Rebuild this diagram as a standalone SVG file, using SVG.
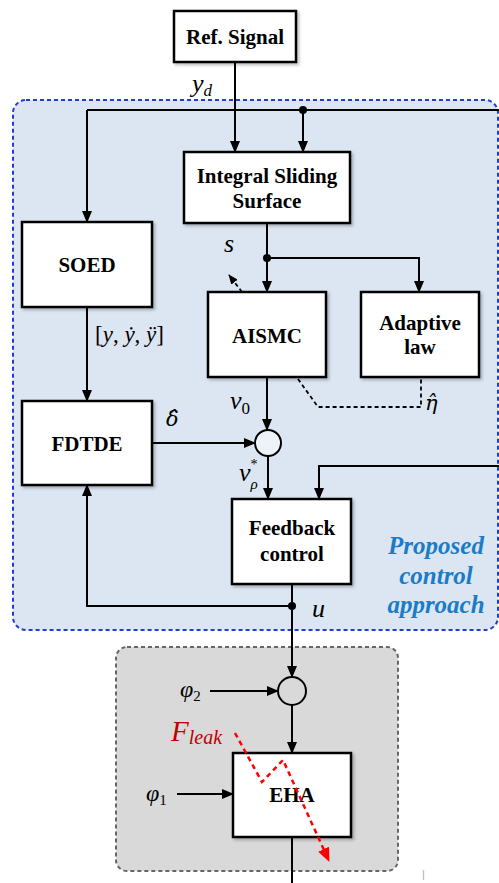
<svg xmlns="http://www.w3.org/2000/svg" width="499" height="883" viewBox="0 0 499 883">
<style>
.box{fill:#fff;stroke:#000;stroke-width:2.5;filter:url(#sh)}
.ln{fill:none;stroke:#000;stroke-width:2}
.arr{fill:none;stroke:#000;stroke-width:2;marker-end:url(#ah)}
.dash{fill:none;stroke:#000;stroke-width:1.8;stroke-dasharray:4,3}
</style>
<defs>
<filter id="sh" x="-10%" y="-10%" width="130%" height="130%">
<feDropShadow dx="2" dy="2" stdDeviation="1.5" flood-color="#000" flood-opacity="0.25"/>
</filter>
<marker id="ah" markerWidth="12" markerHeight="10" refX="11" refY="5" orient="auto" markerUnits="userSpaceOnUse">
<path d="M0,0 L12,5 L0,10 Z" fill="#000"/>
</marker>
<marker id="ahs" markerWidth="10" markerHeight="8" refX="9" refY="4" orient="auto" markerUnits="userSpaceOnUse">
<path d="M0,0 L10,4 L0,8 Z" fill="#000"/>
</marker>
<marker id="ahr" markerWidth="14" markerHeight="12" refX="13" refY="6" orient="auto" markerUnits="userSpaceOnUse">
<path d="M0,0 L14,6 L0,12 Z" fill="#ff0000"/>
</marker>
</defs>

<g id="regions">
<rect x="13" y="100" width="485" height="530" rx="13" fill="#dce6f2" stroke="#1f3fcc" stroke-width="2" stroke-dasharray="4,3"/>
<rect x="116" y="647" width="282" height="224" rx="11" fill="#d9d9d9" stroke="#666" stroke-width="2" stroke-dasharray="4,3"/>
<g font-family="Liberation Serif, serif" font-style="italic" font-weight="bold" font-size="25" fill="#1a7cc8" text-anchor="middle">
<text x="436" y="554">Proposed</text>
<text x="436" y="584">control</text>
<text x="436" y="613">approach</text>
</g>
</g>

<g id="connectors">
<path class="arr" d="M235,62 V152"/>
<path class="ln" d="M87,110 H499"/>
<circle cx="303" cy="110" r="4" fill="#000"/>
<path class="arr" d="M303,110 V152"/>
<path class="arr" d="M87,110 V222"/>
<path class="arr" d="M267,223 V292"/>
<circle cx="267" cy="258" r="4" fill="#000"/>
<path class="arr" d="M267,258 H419 V292"/>
<path class="dash" d="M242,292 L229,275" marker-end="url(#ahs)"/>
<path class="dash" d="M298,379 L318,407 H421 V377"/>
<path class="arr" d="M87,307 V401"/>
<path class="arr" d="M267,377 V430"/>
<path class="arr" d="M152,443 H255"/>
<path class="arr" d="M268,456 V499"/>
<path class="arr" d="M499,466 H319 V499"/>
<path class="ln" d="M292,584 V883"/>
<circle cx="292" cy="606" r="4" fill="#000"/>
<path class="arr" d="M292,606 H87 V485"/>
<path class="arr" d="M292,630 V677"/>
<path class="arr" d="M210,691 H278"/>
<path class="arr" d="M292,705 V753"/>
<path class="arr" d="M177,794 H233"/>
</g>

<g font-family="Liberation Serif, serif" font-weight="bold" font-size="21" text-anchor="middle" fill="#000">
<g id="ref-signal"><rect class="box" x="174" y="11" width="122" height="51"/><text x="235" y="44">Ref. Signal</text></g>
<g id="iss"><rect class="box" x="184" y="152" width="166" height="71"/><text x="267" y="183">Integral Sliding</text><text x="267" y="208">Surface</text></g>
<g id="soed"><rect class="box" x="22" y="222" width="130" height="85"/><text x="87" y="272">SOED</text></g>
<g id="aismc"><rect class="box" x="208" y="292" width="118" height="85"/><text x="267" y="343">AISMC</text></g>
<g id="adaptive-law"><rect class="box" x="361" y="292" width="118" height="85"/><text x="420" y="330">Adaptive</text><text x="420" y="354">law</text></g>
<g id="fdtde"><rect class="box" x="22" y="401" width="130" height="84"/><text x="87" y="451">FDTDE</text></g>
<g id="sum1"><circle cx="268" cy="443" r="13" fill="#eef3f9" stroke="#000" stroke-width="2"/></g>
<g id="feedback-control"><rect class="box" x="232" y="499" width="119" height="85"/><text x="292" y="535">Feedback</text><text x="292" y="561">control</text></g>
<g id="sum2"><circle cx="292" cy="691" r="14" fill="#d9d9d9" stroke="#000" stroke-width="2"/></g>
<g id="eha"><rect class="box" x="233" y="753" width="118" height="84"/><text x="292" y="802">EHA</text></g>
</g>

<g id="labels" font-family="Liberation Serif, serif" font-style="italic" font-size="26" fill="#000">
<text x="192" y="92">y<tspan font-size="17" dy="4">d</tspan></text>
<text x="224" y="252">s</text>
<text x="95" y="342" font-style="normal" font-size="23">[<tspan font-style="italic">y</tspan>, <tspan font-style="italic">ẏ</tspan>, <tspan font-style="italic">ÿ</tspan>]</text>
<text x="230" y="409">v<tspan font-size="17" font-style="normal" dy="5">0</tspan></text>
<text x="425" y="410" font-size="21" font-family="DejaVu Serif, serif">η̂</text>
<text x="166" y="426" font-size="21" font-family="DejaVu Serif, serif">δ̂</text>
<text x="239" y="481">v<tspan font-size="14" font-style="normal" dy="-12">*</tspan><tspan font-size="15" dx="-7" dy="20">ρ</tspan></text>
<text x="312" y="617">u</text>
<text x="180" y="697" font-size="24">φ<tspan font-size="15" font-style="normal" dy="4">2</tspan></text>
<text x="146" y="801" font-size="24">φ<tspan font-size="15" font-style="normal" dy="4">1</tspan></text>
<text x="171" y="741" fill="#c00000" font-size="29">F<tspan font-size="20" dy="3">leak</tspan></text>
<text x="422" y="878" font-family="Liberation Sans, sans-serif" font-style="normal" font-size="11" fill="#aaa">|</text>
</g>

<g id="leak-arrow">
<path d="M235,733 L262,782 L283,760 L329,861" fill="none" stroke="#ff0000" stroke-width="2.5" stroke-dasharray="5,4" marker-end="url(#ahr)"/>
</g>
</svg>
